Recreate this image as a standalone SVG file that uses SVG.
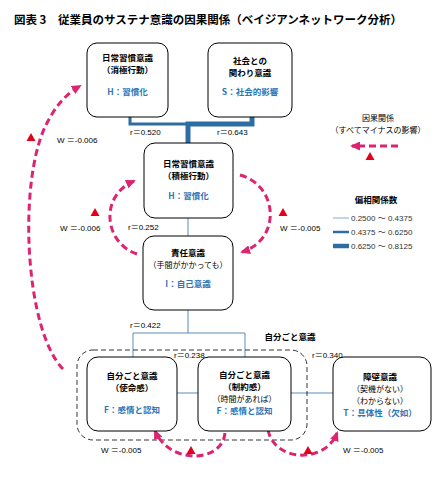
<svg xmlns="http://www.w3.org/2000/svg" width="436" height="479" viewBox="0 0 436 479">
<style>
text{font-family:"Noto Sans CJK JP","Noto Sans CJK SC",sans-serif}
.title{font-size:11.5px;font-weight:bold;fill:#000}
.nb{fill:#fff;stroke:#000;stroke-width:1}
.t{font-size:8.5px;font-weight:bold;text-anchor:middle;fill:#000}
.s{font-size:8px;text-anchor:middle;fill:#000}
.bl{font-size:8.5px;font-weight:bold;text-anchor:middle;fill:#2E75B6}
.r{font-family:"Liberation Sans","Noto Sans CJK JP",sans-serif;font-size:8px;fill:#000}
.leg{font-family:"Liberation Sans","Noto Sans CJK JP",sans-serif;font-size:8px;fill:#333}
.thin{stroke:#5B8DB8;stroke-width:1;fill:none}
.med{stroke:#2E6DA4;stroke-width:3;fill:none}
.thick{stroke:#2E6DA4;stroke-width:5;fill:none}
.arc{stroke:#DC2470;stroke-width:3;fill:none;stroke-dasharray:7 4}
.tri{fill:#E3001B}
</style>
<defs>
<marker id="ah" markerUnits="userSpaceOnUse" markerWidth="10" markerHeight="9" refX="8" refY="4.5" orient="auto">
<path d="M0,0 L10,4.5 L0,9 z" fill="#DC2470"/>
</marker>
<path id="tr" d="M0,-4 L4.5,4 L-4.5,4 z"/>
</defs>
<rect width="436" height="479" fill="#fff"/>
<text class="title" x="14" y="24">図表 3　従業員のサステナ意識の因果関係（ベイジアンネットワーク分析）</text>

<g id="connectors">
<path class="med" d="M130,117 V124 H188"/>
<path class="thick" d="M252,117 V124 H188 V143"/>
<path class="thin" d="M188,218 V236"/>
<path class="thin" d="M188,310 V333 M133,333 H245 M133,333 V357 M245,333 V357"/>
<path class="thin" d="M177,393 H198 M291,393 H333"/>
<rect x="77" y="350" width="230" height="90" rx="16" fill="none" stroke="#000" stroke-width="0.8" stroke-dasharray="5 3"/>
<path class="arc" d="M63,369 C25,330 18,185 45,127 C55,106 66,94 80,86" marker-end="url(#ah)"/>
<path class="arc" d="M137,254 C104,243 99,196 134,181" marker-end="url(#ah)"/>
<path class="arc" d="M240,175 C279,186 281,240 242,252" marker-end="url(#ah)"/>
<path class="arc" d="M225,433 C222,463 170,465 155,431" marker-end="url(#ah)"/>
<path class="arc" d="M268,430 C275,463 326,463 337,433" marker-end="url(#ah)"/>
</g>

<g id="labels">
<text class="r" x="130" y="135">r＝0.520</text>
<text class="r" x="217" y="135">r＝0.643</text>
<text class="r" x="128" y="230">r＝0.252</text>
<text class="r" x="130" y="328">r＝0.422</text>
<rect x="173" y="351" width="30" height="9" fill="#fff"/>
<text class="r" x="174" y="358">r＝0.238</text>
<rect x="311" y="351" width="30" height="9" fill="#fff"/>
<text class="r" x="312" y="358">r＝0.340</text>
<text class="r" x="57" y="143">W ＝-0.006</text>
<text class="r" x="60" y="231">W ＝-0.006</text>
<text class="r" x="280" y="231">W ＝-0.005</text>
<text class="r" x="101" y="453">W ＝-0.005</text>
<text class="r" x="343" y="453">W ＝-0.005</text>
<use href="#tr" class="tri" x="31" y="137"/>
<use href="#tr" class="tri" x="95" y="212"/>
<use href="#tr" class="tri" x="283" y="212"/>
<use href="#tr" class="tri" x="191" y="450"/>
<use href="#tr" class="tri" x="308" y="450"/>
<text class="t" x="290" y="340" font-size="9.5">自分ごと意識</text>
</g>

<g id="node-habit-passive">
<rect class="nb" x="87" y="43" width="81" height="74" rx="10"/>
<text class="t" x="127.5" y="61">日常習慣意識</text>
<text class="t" x="127.5" y="73">（消極行動）</text>
<text class="bl" x="127.5" y="95">H：習慣化</text>
</g>
<g id="node-social">
<rect class="nb" x="208" y="43" width="84" height="74" rx="10"/>
<text class="t" x="250" y="64">社会との</text>
<text class="t" x="250" y="76">関わり意識</text>
<text class="bl" x="250" y="95">S：社会的影響</text>
</g>
<g id="node-habit-active">
<rect class="nb" x="144" y="143" width="89" height="75" rx="11"/>
<text class="t" x="188.5" y="167">日常習慣意識</text>
<text class="t" x="188.5" y="179">（積極行動）</text>
<text class="bl" x="188.5" y="199">H：習慣化</text>
</g>
<g id="node-responsibility">
<rect class="nb" x="143" y="236" width="90" height="74" rx="11"/>
<text class="t" x="188" y="256">責任意識</text>
<text class="s" x="188" y="268">（手間がかかっても）</text>
<text class="bl" x="188" y="287">I：自己意識</text>
</g>
<g id="node-mission">
<rect class="nb" x="87" y="357" width="90" height="74" rx="11"/>
<text class="t" x="132" y="379">自分ごと意識</text>
<text class="t" x="132" y="391">（使命感）</text>
<text class="bl" x="132" y="413">F：感情と認知</text>
</g>
<g id="node-constraint">
<rect class="nb" x="198" y="357" width="93" height="74" rx="11"/>
<text class="t" x="244.5" y="378">自分ごと意識</text>
<text class="t" x="244.5" y="390">（制約感）</text>
<text class="s" x="244.5" y="402">（時間があれば）</text>
<text class="bl" x="244.5" y="414">F：感情と認知</text>
</g>
<g id="node-barrier">
<rect class="nb" x="333" y="357" width="98" height="74" rx="11"/>
<text class="t" x="380" y="380">障壁意識</text>
<text class="s" x="380" y="392">（契機がない）</text>
<text class="s" x="380" y="404">（わからない）</text>
<text class="bl" x="380" y="416">T：具体性（欠如）</text>
</g>

<g id="legend">
<text class="s" x="378" y="121" fill="#333">因果関係</text>
<text class="s" x="378" y="133" fill="#333">（すべてマイナスの影響）</text>
<path class="arc" d="M398,146 H352" marker-end="url(#ah)"/>
<use href="#tr" class="tri" x="370" y="156"/>
<text class="t" x="376" y="203" font-weight="normal">偏相関係数</text>
<line x1="333" y1="218" x2="349" y2="218" stroke="#7EAED8" stroke-width="1"/>
<text class="leg" x="351" y="221">0.2500 ～ 0.4375</text>
<line x1="333" y1="232" x2="349" y2="232" stroke="#2E6DA4" stroke-width="2.5"/>
<text class="leg" x="351" y="235">0.4375 ～ 0.6250</text>
<line x1="333" y1="246" x2="349" y2="246" stroke="#2E6DA4" stroke-width="4.5"/>
<text class="leg" x="351" y="249">0.6250 ～ 0.8125</text>
</g>
</svg>
